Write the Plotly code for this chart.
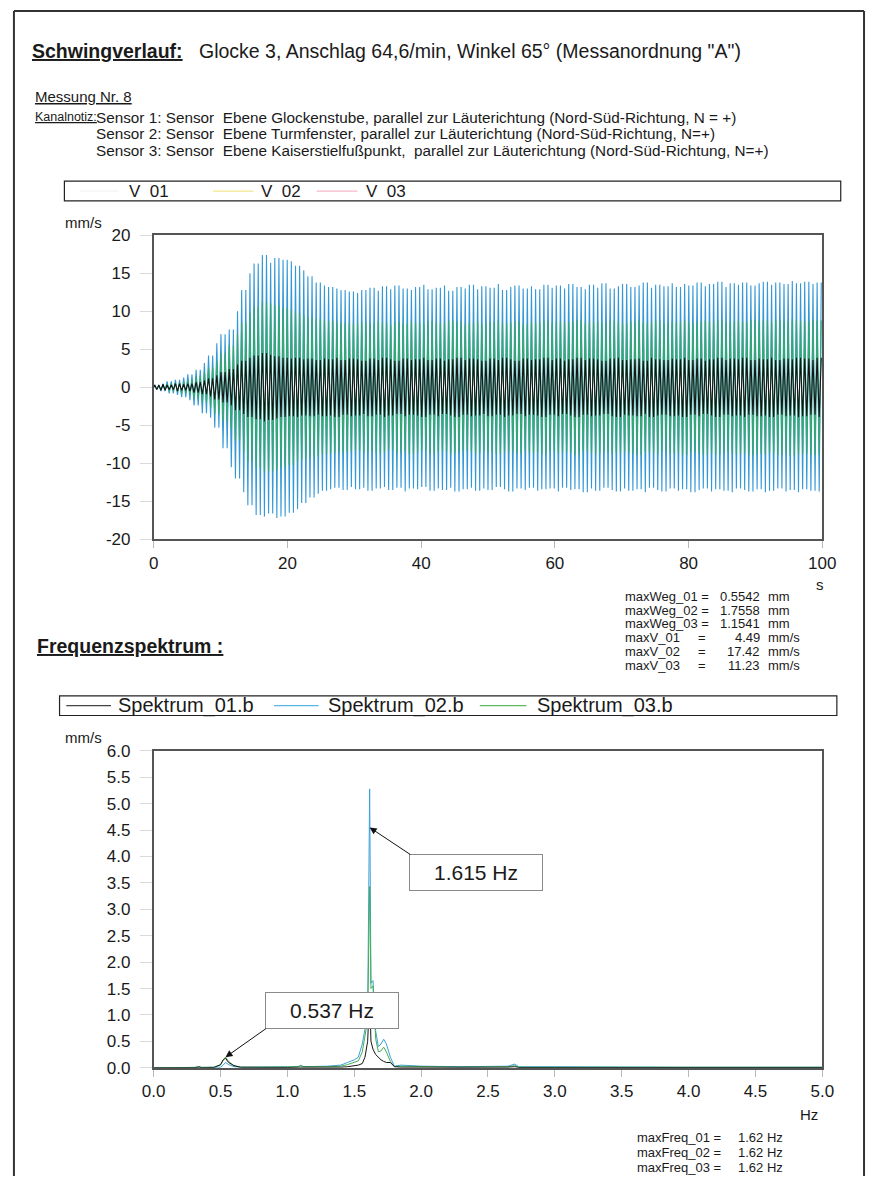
import plotly.graph_objects as go

# ---------------- data ----------------
FREQ_HZ = 1.615  # dominant swing frequency (annotated peak)

# envelope of the velocity signals, read per second (t = 0..99 s), mm/s
V02_POS = [0.3, 0.5, 0.8, 1.0, 1.3, 1.7, 2.3, 3.2, 4.2, 5.8,
           7.0, 7.6, 10.0, 12.8, 15.0, 16.3, 17.4, 16.4, 17.0, 16.8,
           16.6, 16.0, 15.4, 14.6, 13.8, 13.4, 13.2, 13.0, 12.8, 12.6,
           12.4, 12.8, 13.1, 12.7, 13.3, 12.9, 13.4, 13.0, 12.8, 13.2,
           13.5, 12.9, 13.1, 13.4, 12.7, 13.2, 13.0, 13.5, 12.9, 13.3,
           13.1, 13.6, 12.8, 13.2, 13.4, 13.0, 13.3, 12.9, 13.5, 13.1,
           13.4, 13.0, 13.6, 13.2, 12.9, 13.5, 13.1, 13.7, 13.0, 13.3,
           13.6, 13.2, 13.4, 13.8, 13.1, 13.5, 13.3, 13.7, 13.2, 13.6,
           13.4, 13.8, 13.3, 13.6, 13.9, 13.2, 13.7, 13.5, 13.8, 13.4,
           13.7, 13.9, 13.5, 13.8, 13.6, 14.0, 13.7, 13.9, 13.6, 13.8]
V02_NEG = [-0.3, -0.5, -0.8, -1.0, -1.3, -1.7, -2.4, -3.4, -4.0, -5.3,
           -8.0, -10.5, -12.0, -13.8, -15.5, -16.8, -17.0, -16.6, -17.2, -17.0,
           -16.5, -16.0, -15.2, -14.5, -14.0, -13.6, -13.4, -13.2, -13.5, -13.1,
           -13.4, -13.2, -13.6, -13.3, -13.1, -13.5, -13.2, -13.7, -13.3, -13.4,
           -13.1, -13.6, -13.3, -13.5, -13.2, -13.7, -13.4, -13.2, -13.6, -13.3,
           -13.5, -13.1, -13.4, -13.7, -13.3, -13.5, -13.2, -13.6, -13.4, -13.3,
           -13.7, -13.2, -13.5, -13.4, -13.8, -13.3, -13.6, -13.2, -13.5, -13.7,
           -13.3, -13.6, -13.4, -13.8, -13.2, -13.5, -13.7, -13.3, -13.6, -13.4,
           -13.8, -13.5, -13.3, -13.7, -13.4, -13.6, -13.8, -13.3, -13.5, -13.7,
           -13.4, -13.8, -13.6, -13.3, -13.7, -13.5, -13.8, -13.4, -13.6, -13.7]
V03_AMP = [0.2, 0.3, 0.5, 0.6, 0.8, 1.0, 1.5, 2.0, 2.6, 3.5,
           4.5, 5.5, 7.0, 8.5, 9.8, 10.6, 11.2, 11.0, 10.8, 10.5,
           10.2, 9.8, 9.5, 9.2, 9.0, 8.8, 8.7, 8.6, 8.5, 8.4,
           8.3, 8.6, 8.4, 8.7, 8.5, 8.2, 8.6, 8.4, 8.8, 8.5,
           8.3, 8.7, 8.5, 8.4, 8.8, 8.6, 8.3, 8.5, 8.7, 8.4,
           8.6, 8.8, 8.4, 8.5, 8.7, 8.3, 8.6, 8.5, 8.8, 8.4,
           8.7, 8.5, 8.6, 8.9, 8.4, 8.6, 8.7, 8.5, 8.8, 8.6,
           8.4, 8.7, 8.9, 8.5, 8.6, 8.8, 8.4, 8.7, 8.6, 8.9,
           8.5, 8.7, 8.8, 8.6, 8.9, 8.5, 8.7, 8.8, 8.6, 8.9,
           8.7, 8.8, 8.6, 8.9, 8.7, 9.0, 8.8, 8.7, 8.9, 8.8]
V01_AMP = [0.3, 0.4, 0.3, 0.5, 0.4, 0.5, 0.7, 0.9, 1.2, 1.6,
           2.0, 2.4, 3.0, 3.5, 3.9, 4.2, 4.5, 4.3, 4.1, 3.9,
           3.8, 3.9, 3.7, 3.8, 3.6, 3.8, 3.7, 3.9, 3.6, 3.8,
           3.7, 3.5, 3.8, 3.6, 3.9, 3.7, 3.5, 3.8, 3.6, 3.7,
           3.9, 3.6, 3.8, 3.5, 3.7, 3.9, 3.6, 3.8, 3.7, 3.5,
           3.8, 3.6, 3.9, 3.7, 3.5, 3.8, 3.6, 3.7, 3.9, 3.6,
           3.8, 3.5, 3.7, 3.9, 3.6, 3.8, 3.7, 3.5, 3.8, 3.9,
           3.6, 3.7, 3.8, 3.5, 3.9, 3.7, 3.6, 3.8, 3.7, 3.9,
           3.6, 3.8, 3.5, 3.7, 3.9, 3.6, 3.8, 3.7, 3.9, 3.6,
           3.8, 3.7, 3.9, 3.6, 3.8, 3.7, 3.9, 3.8, 3.6, 3.9]

# frequency spectrum (Hz, mm/s)
SPEC_F = [0.00, 0.30, 0.34, 0.36, 0.45, 0.50, 0.52, 0.537, 0.56, 0.60,
          0.65, 0.80, 1.00, 1.08, 1.10, 1.12, 1.30, 1.40, 1.45, 1.50,
          1.53, 1.56, 1.58, 1.60, 1.615, 1.625, 1.64, 1.66, 1.68, 1.70,
          1.72, 1.74, 1.77, 1.80, 1.85, 2.00, 2.30, 2.65, 2.70, 2.73,
          3.00, 3.50, 4.00, 4.50, 5.00]
SPEC_02 = [0.0, 0.0, 0.0, 0.0, 0.005, 0.01, 0.05, 0.10, 0.06, 0.02,
           0.01, 0.01, 0.02, 0.02, 0.05, 0.02, 0.03, 0.05, 0.10, 0.15,
           0.20, 0.45, 0.73, 1.00, 5.28, 1.60, 1.65, 0.70, 0.40, 0.45,
           0.54, 0.45, 0.20, 0.03, 0.05, 0.03, 0.02, 0.03, 0.07, 0.02,
           0.02, 0.01, 0.01, 0.01, 0.01]
SPEC_03 = [0.0, 0.0, 0.0, 0.0, 0.01, 0.05, 0.15, 0.20, 0.12, 0.04,
           0.01, 0.01, 0.01, 0.02, 0.04, 0.02, 0.02, 0.03, 0.06, 0.10,
           0.13, 0.30, 0.60, 0.90, 3.43, 1.50, 1.55, 0.55, 0.30, 0.32,
           0.39, 0.30, 0.12, 0.02, 0.03, 0.02, 0.01, 0.02, 0.04, 0.01,
           0.01, 0.01, 0.01, 0.01, 0.01]
SPEC_01 = [0.0, 0.0, 0.02, 0.0, 0.005, 0.06, 0.15, 0.18, 0.10, 0.04,
           0.01, 0.005, 0.005, 0.01, 0.01, 0.005, 0.01, 0.01, 0.02, 0.03,
           0.05, 0.08, 0.20, 0.50, 1.36, 0.50, 0.35, 0.25, 0.20, 0.15,
           0.12, 0.10, 0.10, 0.02, 0.01, 0.01, 0.005, 0.01, 0.02, 0.005,
           0.005, 0.005, 0.005, 0.005, 0.005]

PEAK_LABELS = ["1.615 Hz", "0.537 Hz"]
PEAK_POINTS = [(1.615, 4.55), (0.537, 0.20)]

TOP_YTICKS = [20, 15, 10, 5, 0, -5, -10, -15, -20]
TOP_YTEXT = ["20", "15", "10", "5", "0", "-5", "-10", "-15", "-20"]
TOP_XTICKS = [0, 20, 40, 60, 80, 100]

TOP_LEGEND = ["V  01", "V  02", "V  03"]
BOT_LEGEND = ["Spektrum_01.b", "Spektrum_02.b", "Spektrum_03.b"]

STAT_NAMES = ["maxWeg_01 =", "maxWeg_02 =", "maxWeg_03 =", "maxV_01", "maxV_02", "maxV_03"]
STAT_VALUES = ["0.5542", "1.7558", "1.1541", "4.49", "17.42", "11.23"]
STAT_UNITS = ["mm", "mm", "mm", "mm/s", "mm/s", "mm/s"]
FREQ_NAMES = ["maxFreq_01 =", "maxFreq_02 =", "maxFreq_03 ="]
FREQ_VALUES = ["1.62 Hz", "1.62 Hz", "1.62 Hz"]

SENSOR_NOTES = [
    "Sensor 1: Sensor  Ebene Glockenstube, parallel zur Läuterichtung (Nord-Süd-Richtung, N = +)",
    "Sensor 2: Sensor  Ebene Turmfenster, parallel zur Läuterichtung (Nord-Süd-Richtung, N=+)",
    "Sensor 3: Sensor  Ebene Kaiserstielfußpunkt,  parallel zur Läuterichtung (Nord-Süd-Richtung, N=+)",
]

# ---------------- helpers ----------------
# The page keeps the browser's default 8px body margin, so the figure is
# sized to make the whole page exactly 895 x 1202.
OFF = 8
W, H = 895 - 2 * OFF, 1202 - 2 * OFF
def PX(x):
    return (x - OFF) / W
def PY(y):
    return 1 - (y - OFF) / H

def waveform(pos_env, neg_env):
    ts, vs = [0.0], [0.0]
    k = 0
    while True:
        t = (k + 0.5) / (2 * FREQ_HZ)
        if t > 100:
            break
        i = min(int(t), len(pos_env) - 1)
        ts.append(t)
        vs.append(pos_env[i] if k % 2 == 0 else neg_env[i])
        k += 1
    return ts, vs

FONT = "Liberation Sans, Arial, sans-serif"
TXT = "#1a1a1a"

BLUE = "rgb(52,152,214)"
GREEN = "rgb(52,168,110)"
BLACK = "#151515"

fig = go.Figure()

t2, v2 = waveform(V02_POS, V02_NEG)
t3, v3 = waveform(V03_AMP, [-a for a in V03_AMP])
t1, v1 = waveform(V01_AMP, [-a for a in V01_AMP])
fig.add_trace(go.Scatter(x=t2, y=v2, mode="lines", line=dict(color=BLUE, width=1.1), xaxis="x", yaxis="y", showlegend=False))
fig.add_trace(go.Scatter(x=t3, y=v3, mode="lines", line=dict(color=GREEN, width=1.1), xaxis="x", yaxis="y", showlegend=False))
fig.add_trace(go.Scatter(x=t1, y=v1, mode="lines", line=dict(color=BLACK, width=1.1), xaxis="x", yaxis="y", showlegend=False))

fig.add_trace(go.Scatter(x=SPEC_F, y=SPEC_02, mode="lines", line=dict(color="rgb(60,160,220)", width=1), xaxis="x2", yaxis="y2", showlegend=False))
fig.add_trace(go.Scatter(x=SPEC_F, y=SPEC_03, mode="lines", line=dict(color="rgb(70,175,80)", width=1), xaxis="x2", yaxis="y2", showlegend=False))
fig.add_trace(go.Scatter(x=SPEC_F, y=SPEC_01, mode="lines", line=dict(color=BLACK, width=1), xaxis="x2", yaxis="y2", showlegend=False))

axis_common = dict(showline=True, mirror=True, linecolor="#555", linewidth=1.6,
                   showgrid=False, zeroline=False, ticks="outside",
                   tickfont=dict(family=FONT, size=17, color=TXT))
xstyle = dict(ticklen=7, tickcolor="#b8b8b8", **axis_common)
ystyle = dict(ticklen=12, tickcolor="#dadada", ticklabelstandoff=6, **axis_common)

fig.update_layout(
    width=W, height=H, autosize=False,
    margin=dict(l=0, r=0, t=0, b=0),
    paper_bgcolor="white", plot_bgcolor="white",
    xaxis=dict(domain=[PX(154), PX(843)], anchor="y", range=[0, 100],
               tickvals=TOP_XTICKS, **xstyle),
    yaxis=dict(domain=[PY(547), PY(238)], anchor="x", range=[-20, 20],
               tickvals=TOP_YTICKS, ticktext=TOP_YTEXT, **ystyle),
    xaxis2=dict(domain=[PX(154), PX(843)], anchor="y2", range=[0, 5],
                dtick=0.5, tick0=0, tickformat=".1f", **xstyle),
    yaxis2=dict(domain=[PY(1084), PY(762)], anchor="x2", range=[0, 6],
                dtick=0.5, tick0=0, tickformat=".1f", **ystyle),
)

shapes = []
# page frame (open at the bottom, kept inside the figure)
frame = dict(type="line", xref="paper", yref="paper", line=dict(color="#333", width=2))
shapes.append(dict(frame, x0=PX(10), x1=PX(10), y0=0, y1=PY(10)))
shapes.append(dict(frame, x0=PX(886), x1=PX(886), y0=0, y1=PY(10)))
shapes.append(dict(frame, x0=PX(10), x1=PX(886), y0=PY(10), y1=PY(10)))
# legend boxes
shapes.append(dict(type="rect", xref="paper", yref="paper", x0=PX(62), x1=PX(862),
                   y0=PY(203), y1=PY(183), line=dict(color="#222", width=1.2)))
shapes.append(dict(type="rect", xref="paper", yref="paper", x0=PX(57), x1=PX(858),
                   y0=PY(726), y1=PY(706), line=dict(color="#222", width=1.2)))
# legend samples
top_leg_colors = ["#f4f4f4", "#f2e68e", "#f4b8c8"]
top_leg_lines = [(78, 118), (215, 257), (322, 364)]
top_leg_text_x = [130, 266, 374]
for (a, b), c in zip(top_leg_lines, top_leg_colors):
    shapes.append(dict(type="line", xref="paper", yref="paper", x0=PX(a), x1=PX(b),
                       y0=PY(193), y1=PY(193), line=dict(color=c, width=1.2)))
bot_leg_colors = ["#444", "#57b7e8", "#5cb85c"]
bot_leg_lines = [(64, 110), (278, 324), (490, 538)]
bot_leg_text_x = [118, 335, 550]
for (a, b), c in zip(bot_leg_lines, bot_leg_colors):
    shapes.append(dict(type="line", xref="paper", yref="paper", x0=PX(a), x1=PX(b),
                       y0=PY(716), y1=PY(716), line=dict(color=c, width=1.2)))
fig.update_layout(shapes=shapes)

ann = []
SHIFT = -3  # compensates the annotation's inner padding
def text(x, y, s, size, anchor="left"):
    ann.append(dict(xref="paper", yref="paper", x=PX(x + SHIFT), y=PY(y), text=s, showarrow=False,
                    xanchor=anchor, yanchor="middle", font=dict(family=FONT, size=size, color=TXT)))

text(30, 51, "<b><u>Schwingverlauf:</u></b>", 19.5)
text(202, 51, "Glocke 3, Anschlag 64,6/min, Winkel 65° (Messanordnung \"A\")", 19.5)
text(33, 97, "<u>Messung Nr. 8</u>", 15)
text(33, 118, "<u>Kanalnotiz:</u>", 12.5)
for i, s in enumerate(SENSOR_NOTES):
    text(96, 118 + i * 17, s, 15.3)

for s, x in zip(TOP_LEGEND, top_leg_text_x):
    text(x, 193, s, 17)
for s, x in zip(BOT_LEGEND, bot_leg_text_x):
    text(x, 716, s, 20)

text(64, 225, "mm/s", 15)
text(64, 748, "mm/s", 15)
text(837, 593, "s", 15)
text(821, 1132, "Hz", 15)

text(35, 655, "<b><u>Frequenzspektrum :</u></b>", 19.5)

for i, (n, v, u) in enumerate(zip(STAT_NAMES, STAT_VALUES, STAT_UNITS)):
    y = 605 + i * 14
    text(641, y, n, 13)
    if i >= 3:
        text(716, y, "=", 13)
    text(784, y, v, 13, anchor="right")
    text(788, y, u, 13)
for i, (n, v) in enumerate(zip(FREQ_NAMES, FREQ_VALUES)):
    y = 1155 + i * 15
    text(653, y, n, 13)
    text(757, y, v, 13)

# peak label boxes
box_pos = [(486, 886), (338, 1026)]
for s, (bx, by) in zip(PEAK_LABELS, box_pos):
    ann.append(dict(xref="paper", yref="paper", x=PX(bx), y=PY(by), text=s, showarrow=False,
                    xanchor="center", yanchor="middle", bgcolor="white", bordercolor="#8a8a8a",
                    borderwidth=1, borderpad=6, width=120, height=23,
                    font=dict(family=FONT, size=21, color=TXT)))
# arrows from box corners to peaks
tails = [(1.93, 4.02), (0.85, 0.76)]
for (px_, py_), (tx, ty) in zip(PEAK_POINTS, tails):
    ann.append(dict(xref="x2", yref="y2", x=px_, y=py_, axref="x2", ayref="y2", ax=tx, ay=ty,
                    text="", showarrow=True, arrowhead=2, arrowsize=1.4, arrowwidth=1,
                    arrowcolor="#111"))

fig.update_layout(annotations=ann)
fig.write_html("out.html")
